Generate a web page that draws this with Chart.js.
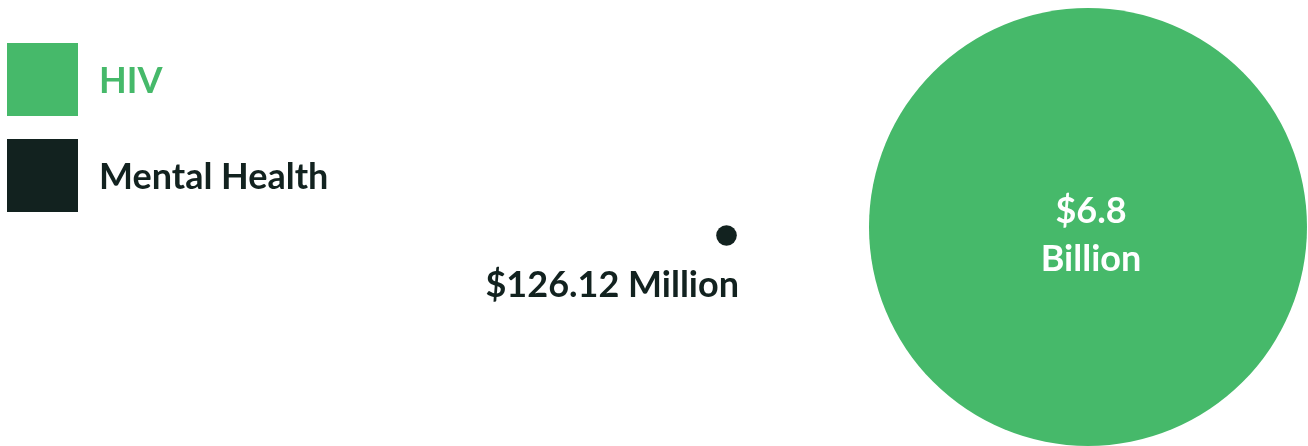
<!DOCTYPE html>
<html>
<head>
<meta charset="utf-8">
<style>
  html, body { margin: 0; padding: 0; background: #ffffff; }
  #wrap { width: 1308px; height: 446px; position: relative; }
</style>
<script src="https://cdn.jsdelivr.net/npm/chart.js@4/dist/chart.umd.min.js"></script>
</head>
<body>
<div id="wrap"><canvas id="chart"></canvas></div>
<script>
// Funding by program area (values in millions of USD)
const categories = ['HIV', 'Mental Health'];
const fundingMillions = [6800, 126.12];
const seriesColors = ['#46b96a', '#12221f'];

const FONT = 'Lato, "Open Sans", sans-serif';

function formatFunding(m) {
  if (m >= 1000) return ['$' + (m / 1000).toString(), 'Billion'];
  return ['$' + m.toString() + ' Million'];
}

// Square swatches with coloured names, stacked in the top-left corner
const legendPlugin = {
  id: 'squareLegend',
  afterDraw(chart) {
    const ctx = chart.ctx;
    ctx.save();
    ctx.font = 'bold 36px ' + FONT;
    ctx.textBaseline = 'alphabetic';
    ctx.textAlign = 'left';
    categories.forEach((name, i) => {
      const top = 43 + i * 96;
      ctx.fillStyle = seriesColors[i];
      ctx.fillRect(7, top, 71, 73);
      ctx.fillText(name, 99, top + 50);
    });
    ctx.restore();
  }
};

// Value labels: inside the large bubble, beside the small one
const valueLabels = {
  id: 'valueLabels',
  afterDatasetsDraw(chart) {
    const ctx = chart.ctx;
    ctx.save();
    ctx.font = 'bold 36px ' + FONT;
    ctx.textBaseline = 'alphabetic';
    chart.data.datasets.forEach((ds, i) => {
      const el = chart.getDatasetMeta(i).data[0];
      const lines = formatFunding(fundingMillions[i]);
      if (lines.length > 1) {
        ctx.fillStyle = '#ffffff';
        ctx.textAlign = 'center';
        ctx.fillText(lines[0], el.x + 3, el.y - 4);
        ctx.fillText(lines[1], el.x + 3, el.y + 44);
      } else {
        ctx.fillStyle = seriesColors[i];
        ctx.textAlign = 'right';
        ctx.fillText(lines[0], el.x + 12.5, el.y + 61.5);
      }
    });
    ctx.restore();
  }
};

const bubbleRadius = [219, 10.3];

new Chart(document.getElementById('chart'), {
  type: 'bubble',
  data: {
    datasets: categories.map((name, i) => ({
      label: name,
      data: [{ x: i, y: 0 }],
      radius: bubbleRadius[i],
      backgroundColor: seriesColors[i],
      borderWidth: 0,
      hoverRadius: 0,
      yAxisID: i === 0 ? 'y' : 'y2',
      clip: false
    }))
  },
  options: {
    responsive: true,
    maintainAspectRatio: false,
    animation: false,
    events: [],
    layout: { padding: 0, autoPadding: false },
    plugins: {
      legend: { display: false },
      tooltip: { enabled: false }
    },
    scales: {
      x: { type: 'linear', display: false, reverse: true, min: -0.6086, max: 3.0097 },
      y: { type: 'linear', display: false, min: -219, max: 227 },
      y2: { type: 'linear', display: false, min: -210.5, max: 235.5 }
    }
  },
  plugins: [legendPlugin, valueLabels]
});
</script>
</body>
</html>
